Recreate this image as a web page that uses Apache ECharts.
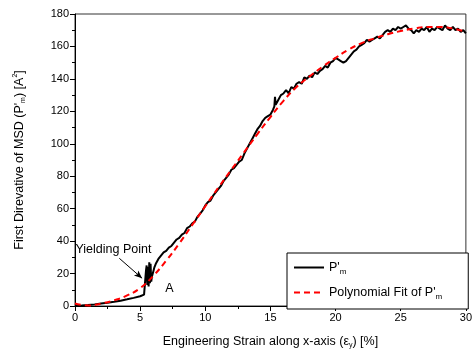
<!DOCTYPE html>
<html><head><meta charset="utf-8">
<script src="https://cdn.jsdelivr.net/npm/echarts@6/dist/echarts.min.js"></script>
<style>html,body{margin:0;padding:0;background:#fff}#c{width:475px;height:354px}</style>
</head><body><div id="c"></div>
<script>
var strainP = [0.0,0.5,1.0,1.5,2.0,2.5,3.0,3.5,4.0,4.5,5.0,5.3,5.4,5.45,5.5,5.55,5.6,5.65,5.7,5.75,5.8,5.85,5.9,6.0,6.1,6.2,6.4,6.6,6.8,7.0,7.2,7.4,7.6,7.8,8.0,8.2,8.4,8.6,8.8,9.0,9.2,9.4,9.6,9.8,10.0,10.2,10.4,10.6,10.8,11.0,11.2,11.4,11.6,11.8,12.0,12.2,12.4,12.6,12.8,13.0,13.2,13.4,13.6,13.8,14.0,14.2,14.4,14.6,14.8,15.0,15.2,15.3,15.35,15.4,15.6,15.8,16.0,16.2,16.4,16.6,16.8,17.0,17.2,17.4,17.6,17.8,18.0,18.2,18.4,18.6,18.8,19.0,19.2,19.4,19.6,19.8,20.0,20.2,20.4,20.6,20.8,21.0,21.2,21.4,21.6,21.8,22.0,22.2,22.4,22.6,22.8,23.0,23.2,23.4,23.6,23.8,24.0,24.2,24.4,24.6,24.8,25.0,25.2,25.4,25.6,25.8,26.0,26.2,26.4,26.6,26.8,27.0,27.2,27.4,27.6,27.8,28.0,28.2,28.4,28.6,28.8,29.0,29.2,29.4,29.6,29.8,30.0];
var pValues = [0.2,0.3,0.6,1.0,1.5,2.0,2.6,3.3,4.1,5.0,6.0,7.0,7.5,22,25,13,24,12,27,14,26,15,18,21,24,26,29,31,33,34,36,37,39,41,42,44,45,48,49,51,52,55,57,59,62,64,65,68,70,72,74,77,79,81,84,85,87,89,90,94,97,100,103,106,109,111,114,116,117,118,121,123,129,124,127,130,131,133,131,135,134,137,138,137,141,140,142,141,144,143,145,146,148,147,150,151,153,152,151,150,151,153,155,157,158,160,161,162,164,163,164,165,166,165,167,169,170,169,171,170,172,171,172,173,171,170,168,170,169,171,170,172,169,171,170,172,171,170,173,171,170,172,170,171,169,170,168];
var strainFit = [0,1,2,3,4,5,6,7,8,9,10,11,12,13,14,15,16,17,18,19,20,21,22,23,24,25,26,27,28,29,30];
var fitValues = [1.5,0.3,1.5,3.5,6.5,11,18.5,28,38.5,50,61.5,73,84,95,106,116.5,126.5,135,141.5,147.5,153,158,162,165,167.5,169.5,171,172,172,171,169];
var xTicks = [0,5,10,15,20,25,30];
var yTicks = [0,20,40,60,80,100,120,140,160,180];

var font = 'Liberation Sans, Arial, sans-serif';
function pairs(xs, ys){ return xs.map(function(x,i){ return [x, ys[i]]; }); }

var chart = echarts.init(document.getElementById('c'));
chart.setOption({
  animation: false,
  backgroundColor: '#fff',
  grid: {left: 75, right: 4, top: 14, bottom: 46, show: true, borderColor: '#333', borderWidth: 1},
  legend: {
    left: 287, top: 253,
    orient: 'vertical',
    backgroundColor: '#fff',
    borderColor: '#000', borderWidth: 1, borderRadius: 0,
    padding: [8, 26, 8, 6],
    itemWidth: 30, itemHeight: 10, itemGap: 10,
    itemStyle: {opacity: 0},
    textStyle: {fontFamily: font, fontSize: 12.5, color: '#000',
      rich: {s: {fontSize: 8, fontFamily: font, padding: [9,0,0,0]}, n: {fontSize: 12.5, fontFamily: font}}},
    formatter: function(name){
      if (name === 'P') return "{n|P'}{s|m}";
      return "{n|Polynomial Fit of P'}{s|m}";
    },
    data: ['P', 'Fit']
  },
  xAxis: {
    type: 'value', min: 0, max: 30, interval: 5,
    name: "{n|Engineering Strain along x-axis (ε}{s|y}{n|) [%]}",
    nameLocation: 'middle', nameGap: 28,
    nameTextStyle: {fontFamily: font, fontSize: 12.5, color: '#000',
      rich: {n: {fontFamily: font, fontSize: 12.5, color: '#000'}, s: {fontFamily: font, fontSize: 7, color: '#000', padding: [8,0,0,0]}}},
    axisLine: {show: true, lineStyle: {color: '#000', width: 1}},
    axisTick: {show: true, inside: false, length: 5, lineStyle: {color: '#000'}},
    minorTick: {show: true, splitNumber: 2, length: 3, lineStyle: {color: '#000'}},
    splitLine: {show: false},
    axisLabel: {fontFamily: font, fontSize: 11, color: '#000', margin: 6}
  },
  yAxis: {
    type: 'value', min: 0, max: 180, interval: 20,
    name: "{n|First Direvative of MSD (P'}{s|m}{n|) [A}{p|2}{n|]}",
    nameLocation: 'middle', nameGap: 48, nameRotate: 90,
    nameTextStyle: {fontFamily: font, fontSize: 12.5, color: '#000',
      rich: {n: {fontFamily: font, fontSize: 12.5, color: '#000'}, s: {fontFamily: font, fontSize: 7, color: '#000', padding: [8,0,0,0]}, p: {fontFamily: font, fontSize: 7, color: '#000', padding: [0,0,8,0]}}},
    axisLine: {show: true, lineStyle: {color: '#000', width: 1}},
    axisTick: {show: true, inside: false, length: 5, lineStyle: {color: '#000'}},
    minorTick: {show: true, splitNumber: 2, length: 3, lineStyle: {color: '#000'}},
    splitLine: {show: false},
    axisLabel: {fontFamily: font, fontSize: 11, color: '#000', margin: 6}
  },
  series: [
    {
      name: 'P', type: 'line', data: pairs(strainP, pValues),
      symbol: 'none', lineStyle: {color: '#000', width: 2}, itemStyle: {color: '#000'}, z: 2,
      markLine: {
        silent: true, symbol: ['none', 'arrow'], symbolSize: [5, 8],
        lineStyle: {color: '#000', width: 1, type: 'solid'},
        label: {show: false},
        data: [[{coord: [3.4, 29.4]}, {coord: [5.15, 17.1]}]]
      },
      markPoint: {
        silent: true, symbol: 'circle', symbolSize: 0,
        data: [
          {coord: [2.95, 34.5], label: {show: true, formatter: 'Yielding Point', color: '#000', fontFamily: font, fontSize: 12.5, position: 'inside'}},
          {coord: [7.25, 11], label: {show: true, formatter: 'A', color: '#000', fontFamily: font, fontSize: 12.5, position: 'inside'}}
        ]
      }
    },
    {
      name: 'Fit', type: 'line', data: pairs(strainFit, fitValues), smooth: true,
      symbol: 'none', lineStyle: {color: '#ff0000', width: 2, type: [6, 4]}, itemStyle: {color: '#ff0000'}, z: 3
    }
  ]
});
</script></body></html>
